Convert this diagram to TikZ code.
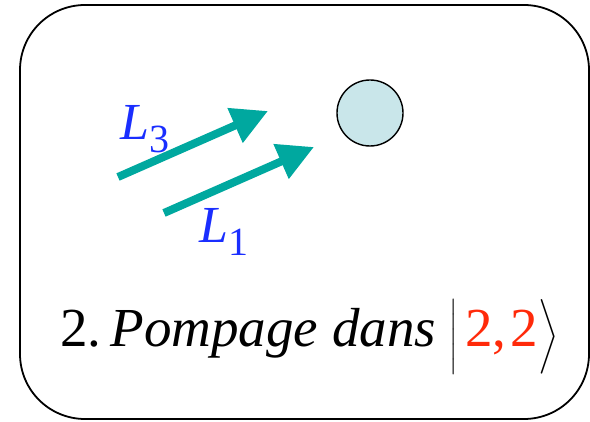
\RequirePackage{fix-cm}
\documentclass[tikz,border=0pt]{standalone}
\usepackage{amsmath}
\usepackage{fontspec}
\setmainfont{LiberationSerif}[Extension=.ttf, UprightFont=*-Regular, ItalicFont=*-Italic, BoldFont=*-Bold]
\usetikzlibrary{arrows.meta,positioning}
\definecolor{laser}{HTML}{00A89F}
\definecolor{labelblue}{HTML}{1A2EFF}
\definecolor{atom}{HTML}{C9E6EA}
\definecolor{level}{HTML}{FF2A0A}
\newcommand{\beam}[1]{\textit{L}\raisebox{-13pt}{\fontsize{40}{40}\selectfont #1}}
\newcommand{\ketbar}[1]{\raisebox{-4pt}{$#1$}}

\begin{document}
\begin{tikzpicture}[
		x=1pt, y=-1pt,
		every node/.style={align=left, inner sep=0pt},
		frame/.style={draw=black, line width=1.8pt, rounded corners=65pt},
		arr/.style={-{Triangle[length=36pt, width=36pt]}, line width=8pt, laser},
		lbl/.style={font=\fontsize{52}{52}\selectfont, labelblue, anchor=base west},
		]
	\useasboundingbox (0,0) rectangle (590,422);

	% Cadre
	\draw[frame] (20,5) rectangle (589,419);

	% Atome
	\node[circle, draw=black, line width=1.4pt, fill=atom, minimum size=66pt] (atome) at (370,113) {};

	% Faisceaux laser
	\coordinate (l3a) at (118,177);
	\coordinate (l3b) at (268,111);
	\coordinate (l1a) at (164,213);
	\coordinate (l1b) at (314,147);
	\draw[arr] (l3a) -- (l3b);
	\draw[arr] (l1a) -- (l1b);

	% Etiquettes
	\node[lbl] (lab3) at (120,140) {\beam{3}};
	\node[lbl] (lab1) at (199,243) {\beam{1}};

	% Titre
	\node[font=\fontsize{55}{48}\selectfont, anchor=base west] (titre) at (60,347)
	{2.\,\textit{Pompage dans}\hspace{14pt}\ketbar{\bigl|}\hspace{7pt}\textcolor{level}{2,\hspace{4pt}2}\ketbar{\bigr\rangle}};

\end{tikzpicture}
\end{document}
